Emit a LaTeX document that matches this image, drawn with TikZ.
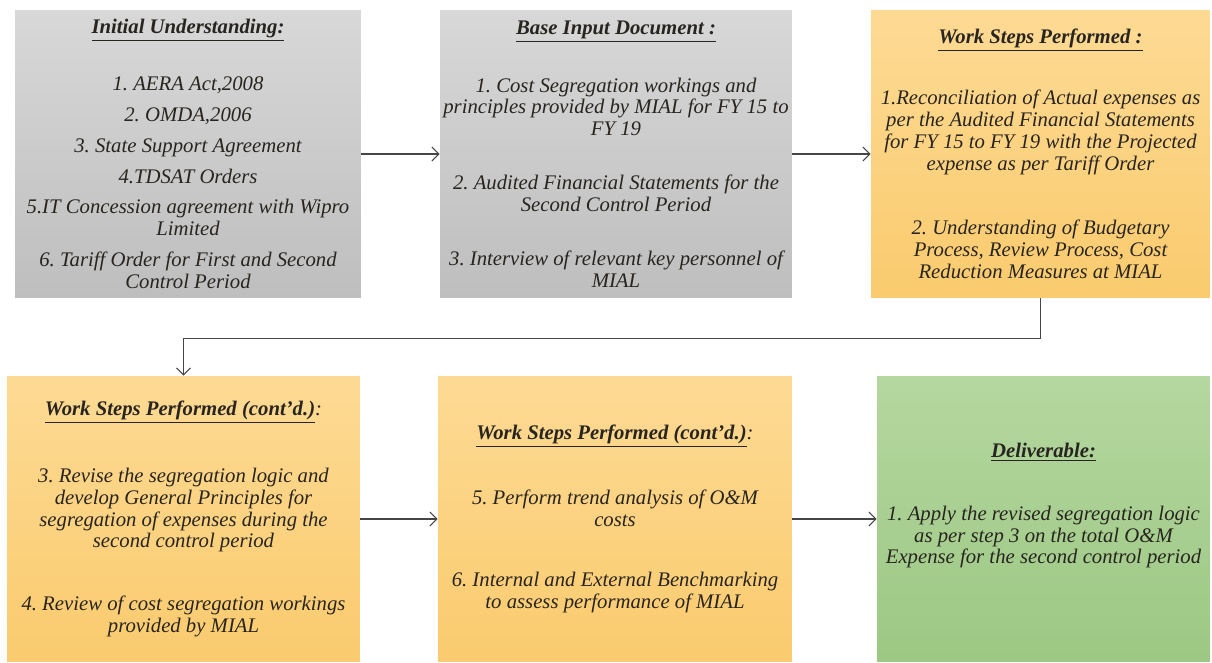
\documentclass[tikz,border=0pt]{standalone}
\usepackage{fontspec}
\setmainfont{Liberation Serif}
\usetikzlibrary{arrows.meta}

\definecolor{graytop}{RGB}{216,216,216}
\definecolor{graybot}{RGB}{190,190,190}
\definecolor{orangetop}{RGB}{253,218,148}
\definecolor{orangebot}{RGB}{250,203,110}
\definecolor{greentop}{RGB}{181,215,160}
\definecolor{greenbot}{RGB}{156,200,131}
\definecolor{inktext}{RGB}{40,36,32}
\definecolor{inkline}{RGB}{70,70,70}

\newcommand{\boxhead}[1]{\underline{\textbf{#1}}}

\tikzset{
    stepbox/.style={inner sep=0pt, align=center, text=inktext,
        font=\frenchspacing\itshape\fontsize{11.8}{12.5}\selectfont},
    graybox/.style={stepbox, top color=graytop, bottom color=graybot},
    orangebox/.style={stepbox, top color=orangetop, bottom color=orangebot},
    greenbox/.style={stepbox, top color=greentop, bottom color=greenbot},
    arr/.style={-{Straight Barb[length=4pt,width=8pt]}, draw=inkline, line width=0.6pt}
}

\begin{document}
\begin{tikzpicture}[x=0.02cm, y=-0.02cm]
        \useasboundingbox (0,0) rectangle (1212,662);

        % top row
        \node[graybox, minimum width=6.92cm, minimum height=5.76cm] (init) at (188,154)
            {\boxhead{Initial Understanding:}\\[20pt]
             1. AERA Act,2008\\[5pt]
             2. OMDA,2006\\[5pt]
             3. State Support Agreement\\[5pt]
             4.TDSAT Orders\\[5pt]
             5.IT Concession agreement with Wipro\\Limited\\[5pt]
             6. Tariff Order for First and Second\\Control Period};
        \node[graybox, minimum width=7.04cm, minimum height=5.76cm] (base) at (616,154)
            {\boxhead{Base Input Document :}\\[19pt]
             1. Cost Segregation workings and\\principles provided by MIAL for FY 15 to\\FY 19\\[18pt]
             2. Audited Financial Statements for the\\Second Control Period\\[18pt]
             3. Interview of relevant key personnel of\\MIAL};
        \node[orangebox, minimum width=6.78cm, minimum height=5.76cm] (work) at (1040.5,154)
            {\boxhead{Work Steps Performed :}\\[21pt]
             1.Reconciliation of Actual expenses as\\per the Audited Financial Statements\\for FY 15 to FY 19 with the Projected\\expense as per Tariff Order\\[24pt]
             2. Understanding of Budgetary\\Process, Review Process, Cost\\Reduction Measures at MIAL};

        % bottom row
        \node[orangebox, minimum width=7.06cm, minimum height=5.72cm] (revise) at (183.5,519)
            {\boxhead{Work Steps Performed (cont’d.)}:\\[24pt]
             3. Revise the segregation logic and\\develop General Principles for\\segregation of expenses during the\\second control period\\[23pt]
             4. Review of cost segregation workings\\provided by MIAL};
        \node[orangebox, minimum width=7.08cm, minimum height=5.72cm] (trend) at (615,519)
            {\boxhead{Work Steps Performed (cont’d.)}:\\[23pt]
             5. Perform trend analysis of O\&M\\costs\\[22pt]
             6. Internal and External Benchmarking\\to assess performance of MIAL};
        \node[greenbox, minimum width=6.66cm, minimum height=5.72cm] (deliver) at (1043.5,519)
            {\boxhead{Deliverable:}\\[23pt]
             1. Apply the revised segregation logic\\as per step 3 on the total O\&M\\Expense for the second control period\\[5pt]
             ~};

        \draw[arr] (init) -- (base);
        \draw[arr] (base) -- (work);
        \draw[arr] (work.south) -- ++(0,40) -| (revise.north);
        \draw[arr] (revise) -- (trend);
        \draw[arr] (trend) -- (deliver);
\end{tikzpicture}
\end{document}
